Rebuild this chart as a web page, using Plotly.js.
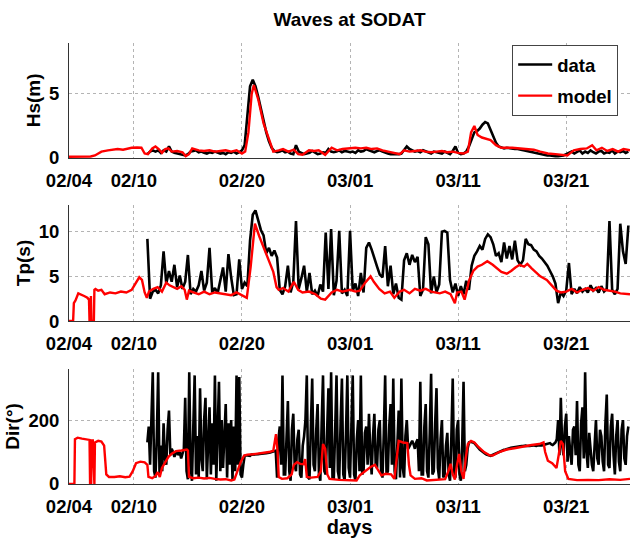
<!DOCTYPE html>
<html>
<head>
<meta charset="utf-8">
<script src="https://cdn.plot.ly/plotly-3.0.1.min.js"></script>
<style>html,body{margin:0;padding:0;background:#fff;overflow:hidden;}#chart{width:630px;height:538px;}</style>
</head>
<body>
<div id="chart"></div>
<script>
// ---- tick labels ----
const tickDays = [0, 6, 16, 26, 36, 46];
const tickLabels = ['02/04', '02/10', '02/20', '03/01', '03/11', '03/21'];

// ---- observed data ("data"), starting at day 7.25 after 02/04 ----
const dataStartDay = 7.25;
const dataStepDay = 0.25;      // Hs and Tp: every 6 h
const dirStepDay = 0.125;      // Dir: every 3 h
const dataHs = [
  0.3, 0.5, 0.6, 0.5,  0.6, 0.4, 0.6, 0.5,  0.9, 0.5, 0.4, 0.35,  0.3, 0.25, 0.2, 0.3,
  0.5, 0.55, 0.6, 0.45,  0.5, 0.4, 0.35, 0.45,  0.4, 0.5, 0.45, 0.35,  0.4, 0.3, 0.45, 0.4,
  0.5, 0.35, 0.45, 0.6,  1.0, 3.5, 5.6, 6.1,  5.6, 4.8, 3.8, 2.8,  2.0, 1.3, 0.8, 0.55,
  0.45, 0.5, 0.6, 0.45,  0.5, 0.35, 0.3, 1.0,  0.5, 0.4, 0.3, 0.35,  0.4, 0.55, 0.4, 0.3,
  0.35, 0.45, 0.4, 0.7,  0.5, 0.45, 0.5, 0.6,  0.45, 0.55, 0.5, 0.45,  0.5, 0.4, 0.6, 0.5,
  0.55, 0.7, 0.6, 0.5,  0.45, 0.55, 0.6, 0.5,  0.4, 0.35, 0.3, 0.3,  0.25, 0.3, 0.35, 0.6,
  0.9, 0.7, 0.6, 0.5,  0.55, 0.45, 0.6, 0.5,  0.4, 0.35, 0.5, 0.45,  0.4, 0.35, 0.5, 0.4,
  0.3, 0.55, 0.9, 0.4,  0.3, 0.35, 0.5, 0.9,  1.5, 2.0, 2.1, 2.3,  2.6, 2.8, 2.7, 2.2,
  1.6, 1.2, 0.9, 0.8,  0.75, 0.8, 0.75, 0.75,  0.7, 0.7, 0.65, 0.6,  0.55, 0.5, 0.45, 0.4,
  0.35, 0.3, 0.25, 0.25,  0.2, 0.2, 0.15, 0.15,  0.15, 0.15, 0.2, 0.3,  0.4, 0.5, 0.35, 0.45,
  0.6, 0.35, 0.5, 0.4,  0.6, 0.45, 0.35, 0.5,  0.55, 0.35, 0.45, 0.4,  0.6, 0.35, 0.5, 0.45,
  0.55, 0.4, 0.5
];
const dataTp = [
  9.2, 2.5, 3.3, 3.5,  3.1, 4.0, 7.8, 4.2,  5.6, 4.4, 6.3, 3.8,  5.1, 3.6, 4.4, 7.4,
  3.0, 3.6, 3.3, 4.0,  5.6, 3.4, 4.3, 8.2,  3.2, 3.7, 3.1, 4.4,  6.0, 3.3, 7.5, 4.9,
  2.9, 3.0, 6.9, 3.6,  4.3, 3.9, 9.0, 11.9,  12.4, 11.3, 10.2, 9.6,  7.6, 8.2, 7.3, 7.9,
  7.1, 3.5, 3.0, 3.9,  6.2, 3.2, 4.4, 11.2,  3.6, 4.8, 6.2, 3.3,  5.4, 3.0, 3.4, 2.8,
  4.1, 3.3, 9.9, 3.6,  10.3, 2.9, 4.5, 10.1,  3.1, 3.5, 2.8, 10.1,  3.4, 4.2, 2.8, 5.4,
  3.2, 8.2, 8.8, 8.0,  6.9, 6.1, 5.2, 4.9,  8.4, 3.9, 6.2, 3.0,  4.2, 2.6, 2.4, 6.8,
  7.6, 6.3, 7.4, 6.6,  7.2, 2.8, 3.5, 9.4,  8.6, 3.1, 5.0, 3.2,  4.1, 10.0, 10.1, 9.9,
  4.6, 3.2, 4.2, 2.8,  3.9, 3.0, 4.5, 3.5,  6.2, 7.3, 7.8, 8.4,  8.0, 9.2, 9.7, 9.4,
  8.6, 7.3, 7.6, 6.6,  8.8, 7.0, 8.4, 6.9,  9.0, 6.8, 6.3, 6.8,  9.2, 8.6, 8.5, 8.0,
  7.8, 7.3, 7.0, 6.6,  6.2, 5.6, 5.0, 4.2,  2.0, 3.2, 2.8, 3.4,  6.5, 3.0, 3.6, 3.1,
  3.8, 3.3, 3.6, 3.2,  4.0, 3.4, 3.7, 3.2,  3.9, 3.3, 3.6, 11.2,  3.5, 3.0, 3.6, 10.9,
  7.8, 6.4, 10.7
];
const dataDir = [
  130, 180, 60, 190, 350, 40,
  20, 150, 350, 30, 120, 40, 190, 80,
  60, 170, 230, 90, 110, 100, 85, 95,
  105, 90, 100, 80, 95, 110, 270, 40,
  15, 350, 60, 10, 180, 340, 30, 150,
  20, 300, 80, 40, 200, 270, 15, 160,
  240, 30, 190, 60, 340, 10, 150, 320,
  40, 200, 50, 170, 250, 20, 190, 60,
  200, 15, 180, 40, 340, 60, 335, 30,
  20, 60, 88, 90, 90, 88, 88, 92,
  92, 91, 91, 93, 93, 94, 94, 95,
  95, 96, 96, 97, 97, 99, 100, 101,
  102, 104, 20, 140, 180, 60, 340, 30,
  30, 150, 260, 40, 10, 170, 220, 60,
  40, 140, 170, 30, 20, 120, 150, 200,
  340, 20, 15, 180, 330, 60, 40, 170,
  250, 30, 10, 190, 340, 40, 30, 160,
  300, 50, 350, 20, 20, 170, 340, 40,
  15, 190, 330, 30, 10, 160, 340, 50,
  20, 180, 340, 30, 10, 140, 200, 40,
  340, 30, 40, 160, 180, 60, 220, 100,
  30, 150, 220, 60, 50, 170, 200, 40,
  20, 160, 340, 30, 40, 180, 250, 60,
  330, 40, 15, 120, 230, 20, 330, 50,
  20, 150, 200, 110, 120, 130, 135, 125,
  110, 130, 140, 40, 320, 30, 30, 180,
  250, 40, 20, 160, 345, 30, 40, 190,
  300, 50, 15, 140, 200, 20, 30, 120,
  160, 30, 10, 150, 330, 40, 20, 170,
  200, 30, 10, 120, 320, 40, 60, 110,
  130, 132, 132, 130, 128, 124, 118, 113,
  108, 104, 100, 97, 95, 92, 90, 89,
  88, 90, 92, 95, 97, 99, 100, 102,
  104, 106, 107, 108, 110, 111, 112, 113,
  114, 115, 116, 116, 117, 118, 118, 119,
  119, 120, 120, 119, 118, 119, 120, 121,
  121, 120, 119, 121, 122, 121, 121, 122,
  123, 124, 125, 126, 128, 124, 122, 126,
  130, 140, 200, 90, 270, 120, 90, 180,
  220, 70, 150, 100, 60, 170, 180, 90,
  260, 60, 40, 190, 240, 80, 350, 100,
  50, 160, 100, 60, 40, 140, 200, 80,
  60, 170, 150, 70, 40, 190, 280, 60,
  50, 180, 220, 90, 30, 150, 200, 70,
  40, 170, 200, 80, 60, 150, 180
];

// ---- model ("model"): [day after 02/04, value] ----
const modelHs = [
  [0,0.1],[1,0.1],[2,0.12],[2.4,0.2],[3,0.5],[3.6,0.6],[4.5,0.7],[5,0.65],[5.8,0.8],[6.3,0.82],[6.7,0.8],
  [7.0,0.35],[7.3,0.3],[7.7,0.75],[8.0,0.9],[8.3,0.7],[8.6,0.4],[8.9,0.7],[9.2,0.75],[9.5,0.5],[10,0.55],
  [10.5,0.45],[10.8,0.15],[11.1,0.3],[11.4,0.75],[12,0.6],[12.5,0.55],[13,0.6],[13.5,0.5],[14,0.55],
  [14.5,0.6],[15,0.5],[15.5,0.6],[16,0.35],[16.3,0.5],[16.6,2.0],[16.9,5.0],[17.1,5.7],[17.5,4.6],
  [18,2.7],[18.5,1.4],[18.9,0.5],[19.4,0.6],[19.8,0.7],[20.3,0.5],[20.8,0.65],[21.2,0.3],[21.6,0.25],
  [22.2,0.6],[22.7,0.55],[23.1,0.6],[23.7,0.25],[24.3,0.8],[24.8,0.6],[25.3,0.7],[26,0.75],[26.5,0.8],
  [27,0.75],[27.5,0.8],[28,0.7],[28.5,0.75],[29,0.6],[29.5,0.5],[30,0.45],[30.6,0.3],[31,0.6],[31.5,0.5],
  [32,0.55],[32.5,0.6],[33,0.5],[33.5,0.45],[34,0.5],[34.5,0.55],[35,0.45],[35.5,0.5],[36,0.4],
  [36.5,0.35],[36.9,0.5],[37.2,2.0],[37.5,2.5],[37.8,1.8],[38.2,1.6],[38.6,1.5],[39,1.4],[39.5,1.0],
  [40,0.8],[41,0.8],[42,0.75],[43,0.65],[43.6,0.5],[44.3,0.35],[45,0.3],[45.6,0.25],[46.1,0.2],
  [46.4,0.4],[46.7,0.6],[47.3,0.7],[47.9,0.75],[48.4,1.0],[48.8,0.6],[49.3,0.8],[49.8,0.55],[50.3,0.7],
  [50.8,0.5],[51.3,0.7],[51.9,0.6]
];
const modelTp = [
  [0,0],[0.38,0],[0.45,2.0],[0.6,2.3],[0.86,3.1],[1.1,3.0],[1.4,2.8],[1.7,2.6],[1.85,2.4],[1.9,0],[2.0,0],
  [2.03,2.8],[2.07,0],[2.3,0],[2.35,3.5],[2.45,3.6],[2.7,3.4],[3.0,3.5],[3.3,3.0],[3.8,3.2],[4.3,3.1],
  [4.8,3.3],[5.3,3.2],[5.8,3.5],[6.2,4.4],[6.5,4.9],[6.75,4.6],[7.0,3.2],[7.2,2.6],[7.4,3.3],[7.8,3.6],
  [8.2,3.8],[8.6,3.3],[9.0,4.3],[9.3,4.0],[9.6,3.8],[10.0,3.6],[10.4,3.9],[10.7,3.5],[10.9,2.4],
  [11.1,3.4],[11.5,3.2],[12,3.0],[12.5,3.3],[13,3.0],[13.5,3.2],[14,3.1],[14.5,3.0],[15,2.9],[15.5,3.2],
  [16.0,2.9],[16.45,2.6],[16.8,6.0],[17.2,10.9],[17.6,9.5],[18.1,8.0],[18.6,6.6],[18.9,5.5],[19.2,3.8],
  [19.4,3.5],[19.8,3.7],[20.3,3.3],[20.8,4.4],[21.2,3.5],[21.6,3.2],[22.2,3.3],[22.8,3.0],[23.3,2.5],
  [23.7,2.4],[24.3,3.2],[24.8,3.5],[25.3,3.3],[26,3.5],[26.5,3.3],[26.9,3.4],[27.4,4.3],[27.9,5.0],
  [28.2,4.4],[28.7,3.6],[29.2,3.1],[29.7,3.3],[30.1,2.6],[30.6,3.3],[31,3.5],[31.5,3.1],[32,3.6],
  [32.5,3.4],[33,3.6],[33.5,3.3],[34,3.2],[34.3,3.1],[34.8,3.3],[35.3,3.0],[35.7,2.0],[35.9,3.2],
  [36.3,3.3],[36.6,2.4],[36.8,3.4],[37.0,4.5],[37.4,5.6],[37.8,6.1],[38.2,6.3],[38.7,6.7],[39.2,6.3],
  [39.6,5.9],[40.0,5.5],[40.5,5.3],[40.9,5.6],[41.3,6.0],[41.7,6.3],[42.1,6.1],[42.4,6.4],[42.8,5.9],
  [43.2,5.5],[43.6,5.0],[44.2,4.6],[44.7,3.9],[45.1,3.4],[45.5,3.2],[46,3.3],[46.5,3.6],[47,3.2],
  [47.5,3.5],[48,3.7],[48.5,3.4],[49,3.8],[49.5,3.5],[50,3.4],[50.5,3.3],[51,3.1],[51.5,3.0],[51.9,3.0]
];
const modelDir = [
  [0,0],[0.5,0],[0.55,140],[0.8,145],[1.2,142],[1.6,140],[1.9,138],[1.95,0],[2.05,0],[2.1,140],[2.15,50],
  [2.2,140],[2.3,0],[2.35,0],[2.4,130],[2.7,135],[3.0,133],[3.25,120],[3.45,30],[3.7,22],[4.2,22],
  [4.7,24],[5.2,21],[5.6,23],[5.9,40],[6.2,65],[6.6,70],[7.0,68],[7.25,60],[7.35,22],[7.7,18],[8.0,25],
  [8.2,37],[8.4,22],[8.6,50],[8.9,68],[9.2,85],[9.5,95],[9.9,103],[10.4,105],[10.9,108],[11.0,105],
  [11.1,22],[11.5,18],[12,20],[12.5,17],[13,19],[13.5,16],[14,14],[14.5,15],[15,11],[15.3,14],[15.6,40],
  [15.9,70],[16.2,89],[16.5,92],[17,93],[17.5,95],[18,97],[18.5,100],[18.9,104],[19.15,156],[19.3,100],
  [19.4,22],[19.7,16],[20.2,18],[20.6,30],[20.8,60],[21.1,68],[21.4,63],[21.7,62],[21.85,78],[22.0,22],
  [22.4,20],[23.0,22],[23.3,40],[23.5,125],[23.7,110],[23.9,30],[24.1,16],[25,13],[26,12],[26.6,11],
  [26.9,27],[27.4,40],[27.9,53],[28.3,60],[28.6,45],[28.9,27],[29.3,32],[29.8,30],[30.1,16],[30.3,80],
  [30.5,135],[30.9,130],[31.3,128],[31.45,60],[31.6,27],[32,16],[32.6,18],[33.1,11],[34,12],[34.8,15],
  [35.1,40],[35.3,63],[35.5,30],[35.7,14],[35.9,60],[36.1,94],[36.3,40],[36.5,16],[36.7,80],[36.9,125],
  [37.2,135],[37.5,130],[37.9,115],[38.4,100],[38.9,90],[39.2,89],[39.8,100],[40.5,108],[41.2,112],
  [42,118],[42.8,122],[43.5,125],[43.9,130],[44.05,100],[44.3,73],[44.7,65],[45.1,50],[45.3,90],
  [45.5,135],[45.7,125],[45.9,40],[46.2,16],[47,12],[48,13],[49,12],[50,15],[51,13],[51.9,16]
];

// ---- helpers ----
const T0 = Date.UTC(2012, 1, 4);
function dayStr(d) {
  return new Date(T0 + d * 86400000).toISOString().slice(0, 19).replace('T', ' ');
}
const dataXHs = dataHs.map((_, i) => dayStr(dataStartDay + i * dataStepDay));
const dataXTp = dataTp.map((_, i) => dayStr(dataStartDay + i * dataStepDay));
const dataXDir = dataDir.map((_, i) => dayStr(dataStartDay + i * dirStepDay));

const FONT = 'Liberation Sans, Arial, Helvetica, sans-serif';
const BLACK = '#000000';
const RED = '#ff0000';

function dataTrace(x, y, xa, ya, show) {
  return {x: x, y: y, xaxis: xa, yaxis: ya, type: 'scatter', mode: 'lines', name: 'data',
    legendgroup: 'a', showlegend: show, line: {color: BLACK, width: 2.6}};
}
function modelTrace(pairs, xa, ya, show) {
  return {x: pairs.map(p => dayStr(p[0])), y: pairs.map(p => p[1]), xaxis: xa, yaxis: ya,
    type: 'scatter', mode: 'lines', name: 'model', legendgroup: 'b', showlegend: show,
    line: {color: RED, width: 2.4}};
}

const traces = [
  dataTrace(dataXHs, dataHs, 'x', 'y', true),
  modelTrace(modelHs, 'x', 'y', true),
  dataTrace(dataXTp, dataTp, 'x2', 'y2', false),
  modelTrace(modelTp, 'x2', 'y2', false),
  dataTrace(dataXDir, dataDir, 'x3', 'y3', false),
  modelTrace(modelDir, 'x3', 'y3', false)
];

const tickFont = {family: FONT, size: 18.5, color: '#000', weight: 'bold'};
function xAxis(anchor, title) {
  const ax = {
    anchor: anchor, domain: [0, 1], type: 'date',
    range: [dayStr(0), dayStr(51.9)],
    tickmode: 'array', tickvals: tickDays.map(dayStr), ticktext: tickLabels,
    showgrid: true, gridcolor: '#b4b4b4', griddash: 'dot', gridwidth: 1,
    showline: true, linecolor: '#333', linewidth: 1, zeroline: false,
    ticks: '', tickfont: tickFont, ticklabelstandoff: 6, fixedrange: true
  };
  if (title) ax.title = {text: title, font: {family: FONT, size: 20, color: '#000', weight: 'bold'}, standoff: 2};
  return ax;
}
function yAxis(anchor, domain, range, ticks, title) {
  return {
    anchor: anchor, domain: domain, range: range,
    tickmode: 'array', tickvals: ticks,
    showgrid: true, gridcolor: '#b4b4b4', griddash: 'dot', gridwidth: 1,
    showline: true, linecolor: '#333', linewidth: 1, zeroline: false,
    ticks: '', tickfont: tickFont, ticklabelstandoff: 5, fixedrange: true,
    title: {text: title, font: {family: FONT, size: 19, color: '#000', weight: 'bold'}, standoff: 3}
  };
}

const layout = {
  width: 630, height: 538,
  margin: {l: 69, r: 0, t: 0, b: 0, pad: 0},
  paper_bgcolor: '#fff', plot_bgcolor: '#fff',
  font: {family: FONT, size: 18.5, color: '#000', weight: 'bold'},
  title: {text: 'Waves at SODAT', x: 0.5, xref: 'paper', xanchor: 'center',
    y: 1 - 19 / 538, yref: 'container', yanchor: 'middle',
    font: {family: FONT, size: 19, color: '#000', weight: 'bold'}},
  xaxis: xAxis('y'),
  xaxis2: xAxis('y2'),
  xaxis3: xAxis('y3', 'days'),
  yaxis: yAxis('x', [0.7063, 0.9206], [0, 9], [0, 5], 'Hs(m)'),
  yaxis2: yAxis('x2', [0.4033, 0.6190], [0, 13], [0, 5, 10], 'Tp(s)'),
  yaxis3: yAxis('x3', [0.1004, 0.3141], [0, 360], [0, 200], 'Dir(°)'),
  showlegend: true,
  legend: {x: 0.79, y: 1 - 45 / 538, xanchor: 'left', yanchor: 'top',
    bgcolor: '#fff', bordercolor: '#444', borderwidth: 1,
    font: {family: FONT, size: 18.5, color: '#000', weight: 'bold'},
    itemwidth: 34, traceorder: 'grouped', tracegroupgap: 4}
};

Plotly.newPlot('chart', traces, layout, {displayModeBar: false, staticPlot: true});
</script>
</body>
</html>
